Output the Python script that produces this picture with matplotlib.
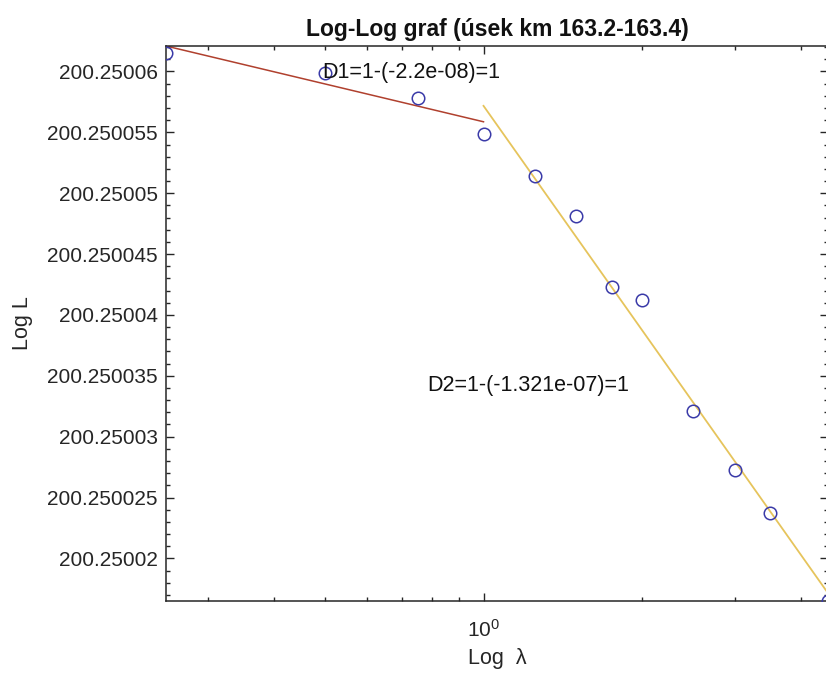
import numpy as np
import matplotlib
matplotlib.use("Agg")
import matplotlib.pyplot as plt
from matplotlib.ticker import LogLocator, MultipleLocator, FuncFormatter, NullFormatter

plt.rcParams['font.family'] = ['Liberation Sans', 'DejaVu Sans']

# Data
lam = [0.25, 0.5, 0.75, 1.0, 1.25, 1.5, 1.75, 2.0, 2.5, 3.0, 3.5, 4.5]
logL = [200.2500615, 200.2500599, 200.2500578, 200.2500549, 200.2500514,
        200.2500481, 200.2500423, 200.2500412, 200.2500321, 200.2500273,
        200.2500237, 200.2500165]
seg1_end = 4    # first segment: first 4 points
seg2_start = 3  # second segment: from lambda = 1
title = "Log-Log graf (úsek km 163.2-163.4)"
txt1 = "D1=1-(-2.2e-08)=1"
txt2 = "D2=1-(-1.321e-07)=1"

lam = np.array(lam)
logL = np.array(logL)

fig = plt.figure(figsize=(8.26, 6.75), dpi=100)
ax = fig.add_axes([166/826, 74/675, (828-166)/826, (601-46)/675])
ax.set_xscale('log')

# fits (in log lambda)
x1 = lam[:seg1_end]; y1 = logL[:seg1_end]
c1 = np.polyfit(np.log10(x1), y1 - 200.25, 1)
x2 = lam[seg2_start:]; y2 = logL[seg2_start:]
c2 = np.polyfit(np.log10(x2), y2 - 200.25, 1)
xx1 = np.array([x1[0], x1[-1]])
xx2 = np.array([x2[0], x2[-1]])

ax.plot(lam, logL, 'o', mfc='none', mec='#3a3aa8', ms=9, mew=1.1, zorder=3)
ax.plot(xx1, np.polyval(c1, np.log10(xx1)) + 200.25, color='#b0402e', lw=1.1, zorder=2)
ax.plot(xx2, np.polyval(c2, np.log10(xx2)) + 200.25, color='#e6c45c', lw=1.3, zorder=2)

ax.margins(0)
ax.autoscale(tight=True)

ax.text(0.495, 200.2500599, txt1, fontsize=15.5, va='center', ha='left', color='#111111')
ax.text(0.783, 200.2500342, txt2, fontsize=15.5, va='center', ha='left', color='#111111')

ax.xaxis.set_major_locator(LogLocator(base=10))
ax.xaxis.set_minor_locator(LogLocator(base=10, subs=np.arange(2, 10)))
ax.xaxis.set_minor_formatter(NullFormatter())
ax.yaxis.set_major_locator(MultipleLocator(5e-6))
ax.yaxis.set_minor_locator(MultipleLocator(1e-6))
ax.yaxis.set_major_formatter(FuncFormatter(lambda v, p: '%.9g' % v))

ax.tick_params(which='both', direction='in', top=True, right=True, colors='#262626',
               labelsize=15, width=1.0)
ax.tick_params(which='major', length=6)
ax.tick_params(axis='y', which='major', pad=6)
ax.tick_params(axis='x', which='major', pad=13)
ax.tick_params(which='minor', length=3)
for s in ax.spines.values():
    s.set_color('#262626')
    s.set_linewidth(1.1)

ax.set_title(title, fontsize=16.5, fontweight='bold', pad=7, color='#111111')
ax.set_xlabel("Log  λ", fontsize=15.5, color='#262626', labelpad=5)
ax.set_ylabel("Log L", fontsize=15.5, color='#262626', labelpad=10)

fig.savefig("out.png", dpi=100)
